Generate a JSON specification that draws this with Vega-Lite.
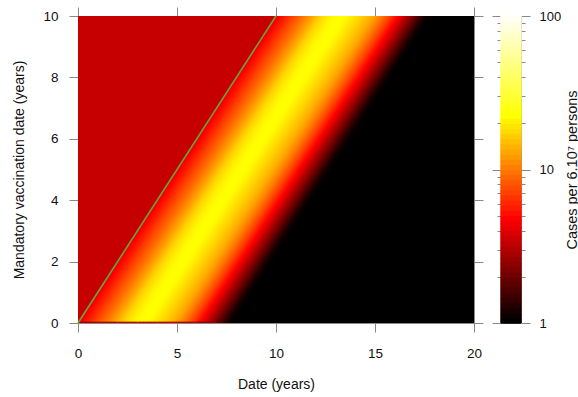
{
  "$schema": "https://vega.github.io/schema/vega-lite/v6.json",
  "background": "white",
  "padding": {"left": 12, "top": 6, "right": 0, "bottom": 0},
  "bounds": "flush",
  "spacing": 27,
  "config": {
    "font": "Liberation Sans",
    "axis": {"grid": false, "domainColor": "#888", "tickColor": "#888", "labelColor": "#111", "titleColor": "#111", "labelFontSize": 13.5, "titleFontSize": 14, "titleFontWeight": "normal", "tickSize": 9, "labelFlush": false, "labelOverlap": false}
  },
  "hconcat": [
    {
      "width": 396,
      "height": 307,
      "view": {"stroke": null},
      "layer": [
        {
          "data": {"values": [{"x": 0, "x2": 20, "y": 0, "y2": 10, "v": 1}]},
          "mark": {"type": "rect"},
          "encoding": {
            "x": {"field": "x", "type": "quantitative", "scale": {"domain": [0, 20], "nice": false, "zero": false}, "axis": {"orient": "bottom", "values": [0, 5, 10, 15, 20], "labelPadding": 14, "title": "Date (years)", "titlePadding": 18}},
            "x2": {"field": "x2"},
            "y": {"field": "y", "type": "quantitative", "scale": {"domain": [0, 10], "nice": false, "zero": false}, "axis": {"orient": "left", "values": [0, 2, 4, 6, 8, 10], "labelPadding": 11, "title": "Mandatory vaccination date (years)", "titlePadding": 16}},
            "y2": {"field": "y2"},
            "color": {"field": "v", "type": "quantitative", "scale": {"type": "log", "domain": [1, 4.6416, 21.544, 100], "range": ["#000000", "#ff0000", "#ffff00", "#ffffff"], "interpolate": "rgb"}, "legend": null}
          }
        },
        {
          "data": {"values": [
            {"d": 0.0, "x": 0.0, "y": 0, "v": 4.0}, {"d": 0.0, "x": 10.0, "y": 10, "v": 4.0},
            {"d": 0.1, "x": 0.1, "y": 0, "v": 4.3}, {"d": 0.1, "x": 10.1, "y": 10, "v": 4.3},
            {"d": 0.2, "x": 0.2, "y": 0, "v": 4.6}, {"d": 0.2, "x": 10.2, "y": 10, "v": 4.6},
            {"d": 0.3, "x": 0.3, "y": 0, "v": 4.9}, {"d": 0.3, "x": 10.3, "y": 10, "v": 4.9},
            {"d": 0.4, "x": 0.4, "y": 0, "v": 5.2}, {"d": 0.4, "x": 10.4, "y": 10, "v": 5.2},
            {"d": 0.5, "x": 0.5, "y": 0, "v": 5.5}, {"d": 0.5, "x": 10.5, "y": 10, "v": 5.5},
            {"d": 0.6, "x": 0.6, "y": 0, "v": 5.8}, {"d": 0.6, "x": 10.6, "y": 10, "v": 5.8},
            {"d": 0.7, "x": 0.7, "y": 0, "v": 6.2}, {"d": 0.7, "x": 10.7, "y": 10, "v": 6.2},
            {"d": 0.8, "x": 0.8, "y": 0, "v": 6.6}, {"d": 0.8, "x": 10.8, "y": 10, "v": 6.6},
            {"d": 0.9, "x": 0.9, "y": 0, "v": 7.0}, {"d": 0.9, "x": 10.9, "y": 10, "v": 7.0},
            {"d": 1.0, "x": 1.0, "y": 0, "v": 7.4}, {"d": 1.0, "x": 11.0, "y": 10, "v": 7.4},
            {"d": 1.1, "x": 1.1, "y": 0, "v": 7.8}, {"d": 1.1, "x": 11.1, "y": 10, "v": 7.8},
            {"d": 1.2, "x": 1.2, "y": 0, "v": 8.2}, {"d": 1.2, "x": 11.2, "y": 10, "v": 8.2},
            {"d": 1.3, "x": 1.3, "y": 0, "v": 8.7}, {"d": 1.3, "x": 11.3, "y": 10, "v": 8.7},
            {"d": 1.4, "x": 1.4, "y": 0, "v": 9.2}, {"d": 1.4, "x": 11.4, "y": 10, "v": 9.2},
            {"d": 1.5, "x": 1.5, "y": 0, "v": 9.8}, {"d": 1.5, "x": 11.5, "y": 10, "v": 9.8},
            {"d": 1.6, "x": 1.6, "y": 0, "v": 10.5}, {"d": 1.6, "x": 11.6, "y": 10, "v": 10.5},
            {"d": 1.7, "x": 1.7, "y": 0, "v": 11.1}, {"d": 1.7, "x": 11.7, "y": 10, "v": 11.1},
            {"d": 1.8, "x": 1.8, "y": 0, "v": 11.8}, {"d": 1.8, "x": 11.8, "y": 10, "v": 11.8},
            {"d": 1.9, "x": 1.9, "y": 0, "v": 12.6}, {"d": 1.9, "x": 11.9, "y": 10, "v": 12.6},
            {"d": 2.0, "x": 2.0, "y": 0, "v": 13.5}, {"d": 2.0, "x": 12.0, "y": 10, "v": 13.5},
            {"d": 2.1, "x": 2.1, "y": 0, "v": 14.5}, {"d": 2.1, "x": 12.1, "y": 10, "v": 14.5},
            {"d": 2.2, "x": 2.2, "y": 0, "v": 15.5}, {"d": 2.2, "x": 12.2, "y": 10, "v": 15.5},
            {"d": 2.3, "x": 2.3, "y": 0, "v": 16.4}, {"d": 2.3, "x": 12.3, "y": 10, "v": 16.4},
            {"d": 2.4, "x": 2.4, "y": 0, "v": 17.2}, {"d": 2.4, "x": 12.4, "y": 10, "v": 17.2},
            {"d": 2.5, "x": 2.5, "y": 0, "v": 18.0}, {"d": 2.5, "x": 12.5, "y": 10, "v": 18.0},
            {"d": 2.6, "x": 2.6, "y": 0, "v": 18.8}, {"d": 2.6, "x": 12.6, "y": 10, "v": 18.8},
            {"d": 2.7, "x": 2.7, "y": 0, "v": 19.4}, {"d": 2.7, "x": 12.7, "y": 10, "v": 19.4},
            {"d": 2.8, "x": 2.8, "y": 0, "v": 20.0}, {"d": 2.8, "x": 12.8, "y": 10, "v": 20.0},
            {"d": 2.9, "x": 2.9, "y": 0, "v": 20.5}, {"d": 2.9, "x": 12.9, "y": 10, "v": 20.5},
            {"d": 3.0, "x": 3.0, "y": 0, "v": 21.0}, {"d": 3.0, "x": 13.0, "y": 10, "v": 21.0},
            {"d": 3.1, "x": 3.1, "y": 0, "v": 21.3}, {"d": 3.1, "x": 13.1, "y": 10, "v": 21.3},
            {"d": 3.2, "x": 3.2, "y": 0, "v": 21.5}, {"d": 3.2, "x": 13.2, "y": 10, "v": 21.5},
            {"d": 3.3, "x": 3.3, "y": 0, "v": 21.6}, {"d": 3.3, "x": 13.3, "y": 10, "v": 21.6},
            {"d": 3.4, "x": 3.4, "y": 0, "v": 21.5}, {"d": 3.4, "x": 13.4, "y": 10, "v": 21.5},
            {"d": 3.5, "x": 3.5, "y": 0, "v": 21.3}, {"d": 3.5, "x": 13.5, "y": 10, "v": 21.3},
            {"d": 3.6, "x": 3.6, "y": 0, "v": 21.0}, {"d": 3.6, "x": 13.6, "y": 10, "v": 21.0},
            {"d": 3.7, "x": 3.7, "y": 0, "v": 20.4}, {"d": 3.7, "x": 13.7, "y": 10, "v": 20.4},
            {"d": 3.8, "x": 3.8, "y": 0, "v": 19.8}, {"d": 3.8, "x": 13.8, "y": 10, "v": 19.8},
            {"d": 3.9, "x": 3.9, "y": 0, "v": 19.2}, {"d": 3.9, "x": 13.9, "y": 10, "v": 19.2},
            {"d": 4.0, "x": 4.0, "y": 0, "v": 18.5}, {"d": 4.0, "x": 14.0, "y": 10, "v": 18.5},
            {"d": 4.1, "x": 4.1, "y": 0, "v": 17.9}, {"d": 4.1, "x": 14.1, "y": 10, "v": 17.9},
            {"d": 4.2, "x": 4.2, "y": 0, "v": 17.3}, {"d": 4.2, "x": 14.2, "y": 10, "v": 17.3},
            {"d": 4.3, "x": 4.3, "y": 0, "v": 16.6}, {"d": 4.3, "x": 14.3, "y": 10, "v": 16.6},
            {"d": 4.4, "x": 4.4, "y": 0, "v": 16.0}, {"d": 4.4, "x": 14.4, "y": 10, "v": 16.0},
            {"d": 4.5, "x": 4.5, "y": 0, "v": 15.4}, {"d": 4.5, "x": 14.5, "y": 10, "v": 15.4},
            {"d": 4.6, "x": 4.6, "y": 0, "v": 14.8}, {"d": 4.6, "x": 14.6, "y": 10, "v": 14.8},
            {"d": 4.7, "x": 4.7, "y": 0, "v": 14.2}, {"d": 4.7, "x": 14.7, "y": 10, "v": 14.2},
            {"d": 4.8, "x": 4.8, "y": 0, "v": 13.6}, {"d": 4.8, "x": 14.8, "y": 10, "v": 13.6},
            {"d": 4.9, "x": 4.9, "y": 0, "v": 12.9}, {"d": 4.9, "x": 14.9, "y": 10, "v": 12.9},
            {"d": 5.0, "x": 5.0, "y": 0, "v": 12.2}, {"d": 5.0, "x": 15.0, "y": 10, "v": 12.2},
            {"d": 5.1, "x": 5.1, "y": 0, "v": 11.5}, {"d": 5.1, "x": 15.1, "y": 10, "v": 11.5},
            {"d": 5.2, "x": 5.2, "y": 0, "v": 10.8}, {"d": 5.2, "x": 15.2, "y": 10, "v": 10.8},
            {"d": 5.3, "x": 5.3, "y": 0, "v": 10.1}, {"d": 5.3, "x": 15.3, "y": 10, "v": 10.1},
            {"d": 5.4, "x": 5.4, "y": 0, "v": 9.4}, {"d": 5.4, "x": 15.4, "y": 10, "v": 9.4},
            {"d": 5.5, "x": 5.5, "y": 0, "v": 8.7}, {"d": 5.5, "x": 15.5, "y": 10, "v": 8.7},
            {"d": 5.6, "x": 5.6, "y": 0, "v": 8.0}, {"d": 5.6, "x": 15.6, "y": 10, "v": 8.0},
            {"d": 5.7, "x": 5.7, "y": 0, "v": 7.4}, {"d": 5.7, "x": 15.7, "y": 10, "v": 7.4},
            {"d": 5.8, "x": 5.8, "y": 0, "v": 6.8}, {"d": 5.8, "x": 15.8, "y": 10, "v": 6.8},
            {"d": 5.9, "x": 5.9, "y": 0, "v": 6.2}, {"d": 5.9, "x": 15.9, "y": 10, "v": 6.2},
            {"d": 6.0, "x": 6.0, "y": 0, "v": 5.6}, {"d": 6.0, "x": 16.0, "y": 10, "v": 5.6},
            {"d": 6.1, "x": 6.1, "y": 0, "v": 5.1}, {"d": 6.1, "x": 16.1, "y": 10, "v": 5.1},
            {"d": 6.2, "x": 6.2, "y": 0, "v": 4.6}, {"d": 6.2, "x": 16.2, "y": 10, "v": 4.6},
            {"d": 6.3, "x": 6.3, "y": 0, "v": 4.2}, {"d": 6.3, "x": 16.3, "y": 10, "v": 4.2},
            {"d": 6.4, "x": 6.4, "y": 0, "v": 3.8}, {"d": 6.4, "x": 16.4, "y": 10, "v": 3.8},
            {"d": 6.5, "x": 6.5, "y": 0, "v": 3.4}, {"d": 6.5, "x": 16.5, "y": 10, "v": 3.4},
            {"d": 6.6, "x": 6.6, "y": 0, "v": 3.0}, {"d": 6.6, "x": 16.6, "y": 10, "v": 3.0},
            {"d": 6.7, "x": 6.7, "y": 0, "v": 2.75}, {"d": 6.7, "x": 16.7, "y": 10, "v": 2.75},
            {"d": 6.8, "x": 6.8, "y": 0, "v": 2.5}, {"d": 6.8, "x": 16.8, "y": 10, "v": 2.5},
            {"d": 6.9, "x": 6.9, "y": 0, "v": 2.25}, {"d": 6.9, "x": 16.9, "y": 10, "v": 2.25},
            {"d": 7.0, "x": 7.0, "y": 0, "v": 2.0}, {"d": 7.0, "x": 17.0, "y": 10, "v": 2.0},
            {"d": 7.1, "x": 7.1, "y": 0, "v": 1.8}, {"d": 7.1, "x": 17.1, "y": 10, "v": 1.8},
            {"d": 7.2, "x": 7.2, "y": 0, "v": 1.6}, {"d": 7.2, "x": 17.2, "y": 10, "v": 1.6},
            {"d": 7.3, "x": 7.3, "y": 0, "v": 1.45}, {"d": 7.3, "x": 17.3, "y": 10, "v": 1.45},
            {"d": 7.4, "x": 7.4, "y": 0, "v": 1.3}, {"d": 7.4, "x": 17.4, "y": 10, "v": 1.3},
            {"d": 7.5, "x": 7.5, "y": 0, "v": 1.2}, {"d": 7.5, "x": 17.5, "y": 10, "v": 1.2},
            {"d": 7.6, "x": 7.6, "y": 0, "v": 1.1}, {"d": 7.6, "x": 17.6, "y": 10, "v": 1.1},
            {"d": 7.7, "x": 7.7, "y": 0, "v": 1.05}, {"d": 7.7, "x": 17.7, "y": 10, "v": 1.05}
          ]},
          "mark": {"type": "line", "strokeWidth": 2.6, "strokeCap": "square", "clip": true},
          "encoding": {
            "x": {"field": "x", "type": "quantitative", "axis": null},
            "y": {"field": "y", "type": "quantitative", "axis": null},
            "detail": {"field": "d", "type": "nominal"},
            "color": {"field": "v", "type": "quantitative", "scale": {"type": "log", "domain": [1, 4.6416, 21.544, 100], "range": ["#000000", "#ff0000", "#ffff00", "#ffffff"], "interpolate": "rgb"}, "legend": null}
          }
        },
        {
          "data": {"values": [{"x": 0, "y": 0, "y2": 10, "v": 3.3}, {"x": 10, "y": 10, "y2": 10, "v": 3.3}]},
          "mark": {"type": "area", "clip": true},
          "encoding": {
            "x": {"field": "x", "type": "quantitative", "axis": null},
            "y": {"field": "y", "type": "quantitative", "axis": null},
            "y2": {"field": "y2"},
            "color": {"field": "v", "type": "quantitative", "scale": {"type": "log", "domain": [1, 4.6416, 21.544, 100], "range": ["#000000", "#ff0000", "#ffff00", "#ffffff"], "interpolate": "rgb"}, "legend": null}
          }
        },
        {
          "data": {"values": [
            {"x": 0, "x2": 1, "v": 2.6}, {"x": 1, "x2": 2, "v": 3.0}, {"x": 2, "x2": 3, "v": 3.4},
            {"x": 3, "x2": 4, "v": 3.4}, {"x": 4, "x2": 5, "v": 3.4}, {"x": 5, "x2": 6, "v": 3.0},
            {"x": 6, "x2": 7, "v": 2.4}, {"x": 7, "x2": 7.3, "v": 1.6}
          ]},
          "mark": {"type": "rect"},
          "encoding": {
            "x": {"field": "x", "type": "quantitative", "axis": null},
            "x2": {"field": "x2"},
            "y": {"datum": 0, "type": "quantitative", "axis": null},
            "y2": {"datum": 0.045},
            "color": {"field": "v", "type": "quantitative", "scale": {"type": "log", "domain": [1, 4.6416, 21.544, 100], "range": ["#000000", "#ff0000", "#ffff00", "#ffffff"], "interpolate": "rgb"}, "legend": null}
          }
        },
        {
          "data": {"values": [{"x": 0, "y": 0}, {"x": 10, "y": 10}]},
          "mark": {"type": "line", "color": "#66a633", "strokeWidth": 1.6},
          "encoding": {
            "x": {"field": "x", "type": "quantitative", "axis": {"orient": "top", "values": [0, 5, 10, 15, 20], "labels": false, "title": null}},
            "y": {"field": "y", "type": "quantitative", "axis": {"orient": "right", "values": [0, 2, 4, 6, 8, 10], "labels": false, "title": null}}
          }
        }
      ],
      "resolve": {"axis": {"x": "independent", "y": "independent"}}
    },
    {
      "width": 20,
      "height": 307,
      "view": {"stroke": "#999"},
      "data": {"values": [
        {"lo": 1, "hi": 1.0798}, {"lo": 1.0798, "hi": 1.1659}, {"lo": 1.1659, "hi": 1.2589}, {"lo": 1.2589, "hi": 1.3594},
        {"lo": 1.3594, "hi": 1.4678}, {"lo": 1.4678, "hi": 1.5849}, {"lo": 1.5849, "hi": 1.7113}, {"lo": 1.7113, "hi": 1.8478},
        {"lo": 1.8478, "hi": 1.9953}, {"lo": 1.9953, "hi": 2.1544}, {"lo": 2.1544, "hi": 2.3263}, {"lo": 2.3263, "hi": 2.5119},
        {"lo": 2.5119, "hi": 2.7123}, {"lo": 2.7123, "hi": 2.9286}, {"lo": 2.9286, "hi": 3.1623}, {"lo": 3.1623, "hi": 3.4145},
        {"lo": 3.4145, "hi": 3.6869}, {"lo": 3.6869, "hi": 3.9811}, {"lo": 3.9811, "hi": 4.2987}, {"lo": 4.2987, "hi": 4.6416},
        {"lo": 4.6416, "hi": 5.0119}, {"lo": 5.0119, "hi": 5.4117}, {"lo": 5.4117, "hi": 5.8434}, {"lo": 5.8434, "hi": 6.3096},
        {"lo": 6.3096, "hi": 6.8129}, {"lo": 6.8129, "hi": 7.3564}, {"lo": 7.3564, "hi": 7.9433}, {"lo": 7.9433, "hi": 8.577},
        {"lo": 8.577, "hi": 9.2612}, {"lo": 9.2612, "hi": 10}, {"lo": 10, "hi": 10.798}, {"lo": 10.798, "hi": 11.659},
        {"lo": 11.659, "hi": 12.589}, {"lo": 12.589, "hi": 13.594}, {"lo": 13.594, "hi": 14.678}, {"lo": 14.678, "hi": 15.849},
        {"lo": 15.849, "hi": 17.113}, {"lo": 17.113, "hi": 18.478}, {"lo": 18.478, "hi": 19.953}, {"lo": 19.953, "hi": 21.544},
        {"lo": 21.544, "hi": 23.263}, {"lo": 23.263, "hi": 25.119}, {"lo": 25.119, "hi": 27.123}, {"lo": 27.123, "hi": 29.286},
        {"lo": 29.286, "hi": 31.623}, {"lo": 31.623, "hi": 34.145}, {"lo": 34.145, "hi": 36.869}, {"lo": 36.869, "hi": 39.811},
        {"lo": 39.811, "hi": 42.987}, {"lo": 42.987, "hi": 46.416}, {"lo": 46.416, "hi": 50.119}, {"lo": 50.119, "hi": 54.117},
        {"lo": 54.117, "hi": 58.434}, {"lo": 58.434, "hi": 63.096}, {"lo": 63.096, "hi": 68.129}, {"lo": 68.129, "hi": 73.564},
        {"lo": 73.564, "hi": 79.433}, {"lo": 79.433, "hi": 85.77}, {"lo": 85.77, "hi": 92.612}, {"lo": 92.612, "hi": 100}
      ]},
      "layer": [
        {
          "mark": {"type": "rect", "strokeWidth": 1},
          "encoding": {
            "x": {"datum": 0, "type": "quantitative", "scale": {"domain": [0, 1], "nice": false}, "axis": null},
            "x2": {"datum": 1},
            "y": {"field": "lo", "type": "quantitative", "scale": {"type": "log", "domain": [1, 100], "nice": false}, "axis": {"orient": "left", "values": [1, 2, 3, 4, 5, 6, 7, 8, 9, 10, 20, 30, 40, 50, 60, 70, 80, 90, 100], "labels": false, "title": null, "domain": false, "tickSize": {"condition": {"test": "datum.value === 1 || datum.value === 10 || datum.value === 100", "value": 9}, "value": 4}}},
            "y2": {"field": "hi"},
            "color": {"field": "lo", "type": "quantitative", "scale": {"type": "log", "domain": [1, 4.6416, 21.544, 100], "range": ["#000000", "#ff0000", "#ffff00", "#ffffff"], "interpolate": "rgb"}, "legend": null},
            "stroke": {"field": "lo", "type": "quantitative", "scale": {"type": "log", "domain": [1, 4.6416, 21.544, 100], "range": ["#000000", "#ff0000", "#ffff00", "#ffffff"], "interpolate": "rgb"}, "legend": null}
          }
        },
        {
          "mark": {"type": "rect", "strokeWidth": 1},
          "encoding": {
            "x": {"datum": 0, "type": "quantitative", "axis": null},
            "x2": {"datum": 1},
            "y": {"field": "lo", "type": "quantitative", "axis": {"orient": "right", "values": [1, 2, 3, 4, 5, 6, 7, 8, 9, 10, 20, 30, 40, 50, 60, 70, 80, 90, 100], "domain": false, "labelExpr": "datum.value === 1 || datum.value === 10 || datum.value === 100 ? format(datum.value, 'd') : ''", "labelPadding": 9, "labelFontSize": 13, "title": "Cases per 6.10⁷ persons", "titleAngle": 270, "titleBaseline": "middle", "titleAlign": "center", "titleX": 51, "titleY": 153.5, "titleFontSize": 14.5, "tickSize": {"condition": {"test": "datum.value === 1 || datum.value === 10 || datum.value === 100", "value": 9}, "value": 4}}},
            "y2": {"field": "hi"},
            "color": {"field": "lo", "type": "quantitative", "scale": {"type": "log", "domain": [1, 4.6416, 21.544, 100], "range": ["#000000", "#ff0000", "#ffff00", "#ffffff"], "interpolate": "rgb"}, "legend": null},
            "stroke": {"field": "lo", "type": "quantitative", "scale": {"type": "log", "domain": [1, 4.6416, 21.544, 100], "range": ["#000000", "#ff0000", "#ffff00", "#ffffff"], "interpolate": "rgb"}, "legend": null}
          }
        }
      ],
      "resolve": {"axis": {"y": "independent"}}
    }
  ]
}
